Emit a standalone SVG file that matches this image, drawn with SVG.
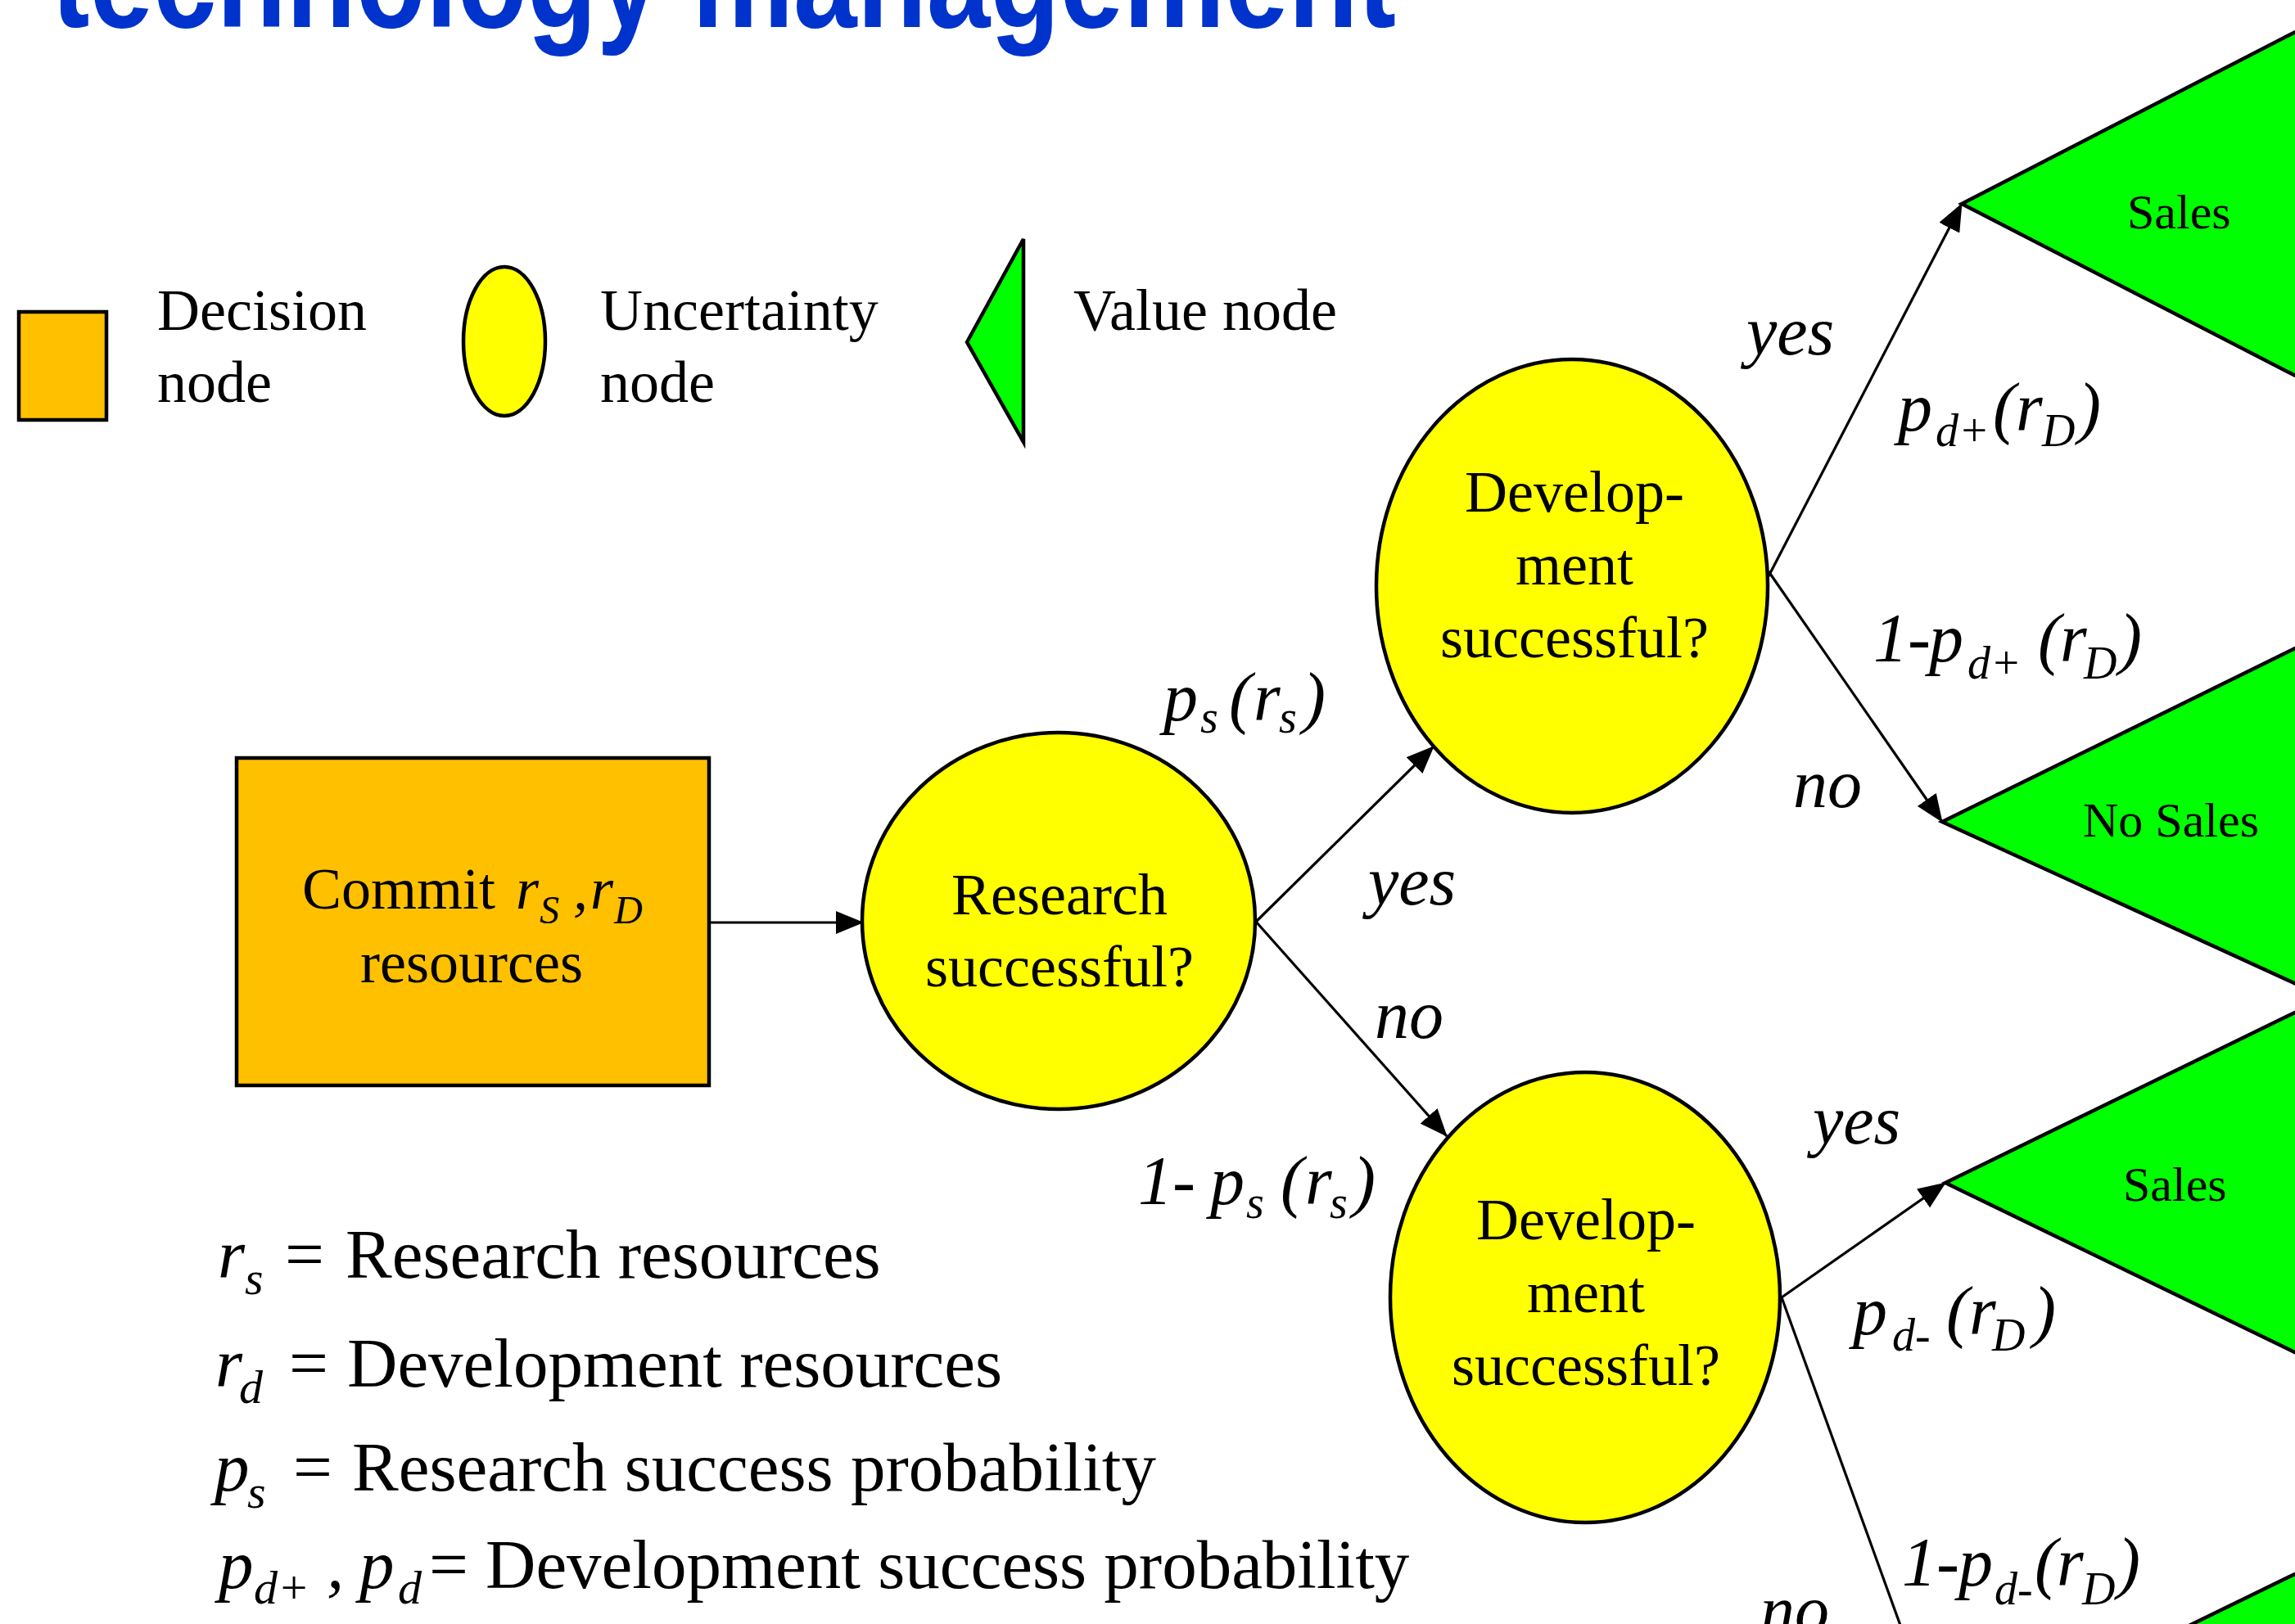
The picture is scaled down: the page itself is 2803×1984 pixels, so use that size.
<svg xmlns="http://www.w3.org/2000/svg" width="2803" height="1984" viewBox="0 0 2803 1984">
<style>
.t{font-family:"Liberation Serif","Times New Roman",serif;fill:#000}
.nt{font-size:72px}
.st{font-size:60px}
.lbl{font-size:84px;font-style:italic}
.sub{font-size:56px;font-style:italic}
.leg{font-size:85px}
.legi{font-size:85px;font-style:italic}
.legs{font-size:58px;font-style:italic}
.dec{fill:#FFC000;stroke:#000;stroke-width:4.5}
.unc{fill:#FFFF00;stroke:#000;stroke-width:4.5}
.val{fill:#00FF00;stroke:#000;stroke-width:4.5;stroke-linejoin:miter}
.edge{fill:none;stroke:#000;stroke-width:3.2}
</style>
<defs>
<marker id="ah" viewBox="0 0 34 28" refX="33" refY="14" markerWidth="34" markerHeight="28" markerUnits="userSpaceOnUse" orient="auto">
<path d="M0,0 L34,14 L0,28 z" fill="#000"/>
</marker>
</defs>
<rect width="2803" height="1984" fill="#fff"/>
<text x="63" y="33" font-family="'Liberation Sans',Arial,sans-serif" font-weight="bold" font-size="168" fill="#0033CC" textLength="1642" lengthAdjust="spacingAndGlyphs">technology management</text>

<g id="legend">
<g id="legend-decision">
<rect class="dec" x="23" y="381" width="107" height="132"/>
<text class="t nt" x="192" y="403">Decision</text>
<text class="t nt" x="192" y="491">node</text>
</g>
<g id="legend-uncertainty">
<ellipse class="unc" cx="616" cy="417" rx="50" ry="91"/>
<text class="t nt" x="733" y="403">Uncertainty</text>
<text class="t nt" x="733" y="491">node</text>
</g>
<g id="legend-value">
<polygon class="val" points="1181,418 1250,292 1250,540"/>
<text class="t nt" x="1311" y="403">Value node</text>
</g>
</g>

<g id="connectors">
<line class="edge" x1="866" y1="1127" x2="1054" y2="1127" stroke-width="3.5" marker-end="url(#ah)"/>
<line class="edge" x1="1534" y1="1126" x2="1751" y2="912" marker-end="url(#ah)"/>
<line class="edge" x1="1534" y1="1126" x2="1767" y2="1388" marker-end="url(#ah)"/>
<line class="edge" x1="2160" y1="704" x2="2396" y2="249" marker-end="url(#ah)"/>
<line class="edge" x1="2160" y1="698" x2="2372" y2="1004" marker-end="url(#ah)"/>
<line class="edge" x1="2176" y1="1585" x2="2376" y2="1445" marker-end="url(#ah)"/>
<line class="edge" x1="2176" y1="1585" x2="2374" y2="2132" marker-end="url(#ah)"/>
</g>

<g id="node-commit">
<rect class="dec" x="289" y="926" width="577" height="400"/>
<text class="t nt"><tspan x="369" y="1110">Commit</tspan><tspan x="630" y="1110" font-style="italic">r</tspan><tspan x="659" y="1128" font-size="48" font-style="italic">S</tspan><tspan x="700" y="1110" font-style="italic">,</tspan><tspan x="721" y="1110" font-style="italic">r</tspan><tspan x="750" y="1128" font-size="48" font-style="italic">D</tspan></text>
<text class="t nt" x="576" y="1200" text-anchor="middle">resources</text>
</g>

<g id="node-research">
<ellipse class="unc" cx="1293" cy="1125" rx="240" ry="230"/>
<text class="t nt" x="1294" y="1117" text-anchor="middle">Research</text>
<text class="t nt" x="1294" y="1205" text-anchor="middle">successful?</text>
</g>

<g id="node-dev-upper">
<ellipse class="unc" cx="1920" cy="716" rx="239" ry="277"/>
<text class="t nt" x="1923" y="625" text-anchor="middle">Develop-</text>
<text class="t nt" x="1923" y="714" text-anchor="middle">ment</text>
<text class="t nt" x="1923" y="803" text-anchor="middle">successful?</text>
</g>

<g id="node-dev-lower">
<ellipse class="unc" cx="1936" cy="1585" rx="238" ry="275"/>
<text class="t nt" x="1937" y="1514" text-anchor="middle">Develop-</text>
<text class="t nt" x="1937" y="1603" text-anchor="middle">ment</text>
<text class="t nt" x="1937" y="1692" text-anchor="middle">successful?</text>
</g>

<g id="node-sales-1">
<polygon class="val" points="2396,249 2850,15 2850,483"/>
<text class="t st" x="2598" y="279">Sales</text>
</g>
<g id="node-nosales-1">
<polygon class="val" points="2372,1004 2850,769 2850,1223"/>
<text class="t st" x="2544" y="1022">No Sales</text>
</g>
<g id="node-sales-2">
<polygon class="val" points="2376,1445 2850,1214 2850,1675"/>
<text class="t st" x="2593" y="1467">Sales</text>
</g>
<g id="node-nosales-2">
<polygon class="val" points="2374,2132 2850,1900 2850,2362"/>
</g>

<g id="edge-labels">
<text class="t lbl" x="2133" y="433">yes</text>
<text class="t lbl"><tspan x="2318" y="526">p</tspan><tspan class="sub" x="2364" y="545">d+</tspan><tspan x="2434" y="526">(</tspan><tspan x="2462" y="526">r</tspan><tspan class="sub" x="2494" y="545">D</tspan><tspan x="2538" y="526">)</tspan></text>
<text class="t lbl"><tspan x="2288" y="808">1-</tspan><tspan x="2356" y="808">p</tspan><tspan class="sub" x="2403" y="829">d+</tspan><tspan x="2489" y="808">(</tspan><tspan x="2516" y="808">r</tspan><tspan class="sub" x="2545" y="829">D</tspan><tspan x="2588" y="808">)</tspan></text>
<text class="t lbl" x="2190" y="986">no</text>
<text class="t lbl"><tspan x="1421" y="880">p</tspan><tspan class="sub" x="1466" y="895">s</tspan><tspan x="1501" y="880">(</tspan><tspan x="1531" y="880">r</tspan><tspan class="sub" x="1562" y="895">s</tspan><tspan x="1591" y="880">)</tspan></text>
<text class="t lbl" x="1671" y="1105">yes</text>
<text class="t lbl" x="1679" y="1268">no</text>
<text class="t lbl"><tspan x="1390" y="1471">1</tspan><tspan x="1432" y="1471">-</tspan><tspan x="1478" y="1471">p</tspan><tspan class="sub" x="1522" y="1488">s</tspan><tspan x="1564" y="1471">(</tspan><tspan x="1594" y="1471">r</tspan><tspan class="sub" x="1624" y="1488">s</tspan><tspan x="1652" y="1471">)</tspan></text>
<text class="t lbl" x="2214" y="1397">yes</text>
<text class="t lbl"><tspan x="2263" y="1630">p</tspan><tspan class="sub" x="2311" y="1650">d-</tspan><tspan x="2377" y="1630">(</tspan><tspan x="2405" y="1630">r</tspan><tspan class="sub" x="2433" y="1650">D</tspan><tspan x="2483" y="1630">)</tspan></text>
<text class="t lbl"><tspan x="2323" y="1937">1-</tspan><tspan x="2392" y="1937">p</tspan><tspan class="sub" x="2436" y="1960">d-</tspan><tspan x="2485" y="1937">(</tspan><tspan x="2512" y="1937">r</tspan><tspan class="sub" x="2543" y="1960">D</tspan><tspan x="2586" y="1937">)</tspan></text>
<text class="t lbl" x="2150" y="1995">no</text>
</g>

<g id="definitions">
<text class="t leg"><tspan class="legi" x="266" y="1561">r</tspan><tspan class="legs" x="299" y="1581">s</tspan><tspan x="348" y="1561">=</tspan><tspan x="422" y="1561">Research resources</tspan></text>
<text class="t leg"><tspan class="legi" x="263" y="1694">r</tspan><tspan class="legs" x="292" y="1714">d</tspan><tspan x="353" y="1694">=</tspan><tspan x="424" y="1694">Development resources</tspan></text>
<text class="t leg"><tspan class="legi" x="262" y="1821">p</tspan><tspan class="legs" x="302" y="1842">s</tspan><tspan x="358" y="1821">=</tspan><tspan x="430" y="1821">Research success probability</tspan></text>
<text class="t leg"><tspan class="legi" x="267" y="1940">p</tspan><tspan class="legs" x="310" y="1959">d+</tspan><tspan class="legi" x="399" y="1940">,</tspan><tspan class="legi" x="439" y="1940">p</tspan><tspan class="legs" x="486" y="1959">d</tspan><tspan x="524" y="1940">=</tspan><tspan x="593" y="1940">Development success probability</tspan></text>
</g>
</svg>
